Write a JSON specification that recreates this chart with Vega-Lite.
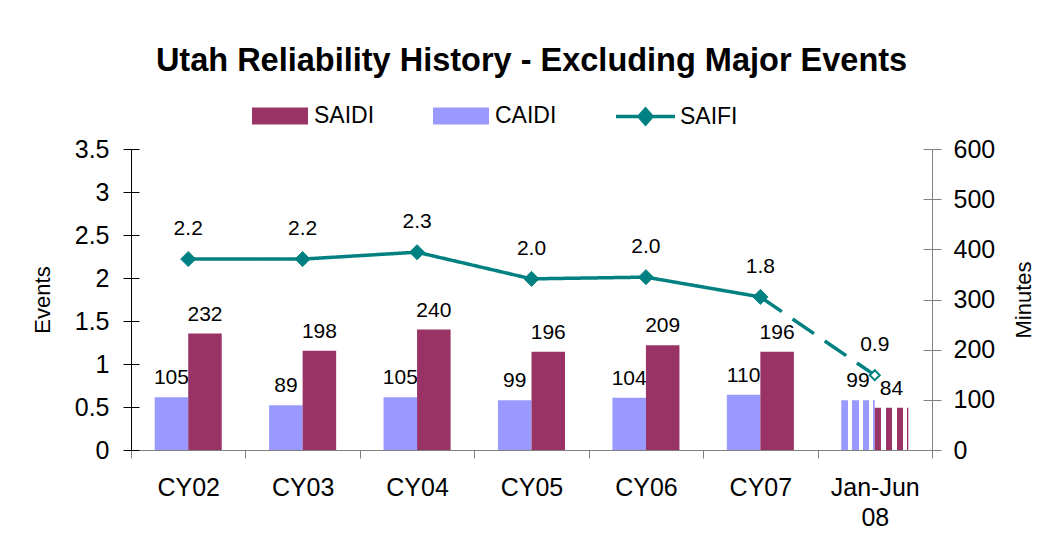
{
  "$schema": "https://vega.github.io/schema/vega-lite/v6.json",
  "width": 801,
  "height": 301,
  "autosize": {"type": "none"},
  "padding": {"left": 131, "top": 149, "right": 115, "bottom": 105},
  "background": "white",
  "config": {
    "font": "Liberation Sans",
    "view": {"stroke": null},
    "axis": {"grid": false, "labelFont": "Liberation Sans", "titleFont": "Liberation Sans", "labelColor": "black", "titleColor": "black", "titleFontWeight": "normal"},
    "legend": {"labelFont": "Liberation Sans", "labelColor": "black"}
  },
  "title": {"text": "Utah Reliability History - Excluding Major Events", "fontSize": 32.5, "fontWeight": "bold", "font": "Liberation Sans", "anchor": "middle", "baseline": "alphabetic", "offset": 15, "dy": 33, "color": "black"},
  "datasets": {
    "bars": [
      {"cat": "CY02", "series": "CAIDI", "value": 105},
      {"cat": "CY02", "series": "SAIDI", "value": 232},
      {"cat": "CY03", "series": "CAIDI", "value": 89},
      {"cat": "CY03", "series": "SAIDI", "value": 198},
      {"cat": "CY04", "series": "CAIDI", "value": 105},
      {"cat": "CY04", "series": "SAIDI", "value": 240},
      {"cat": "CY05", "series": "CAIDI", "value": 99},
      {"cat": "CY05", "series": "SAIDI", "value": 196},
      {"cat": "CY06", "series": "CAIDI", "value": 104},
      {"cat": "CY06", "series": "SAIDI", "value": 209},
      {"cat": "CY07", "series": "CAIDI", "value": 110},
      {"cat": "CY07", "series": "SAIDI", "value": 196},
      {"cat": "Jan-Jun 08", "series": "CAIDI", "value": 99},
      {"cat": "Jan-Jun 08", "series": "SAIDI", "value": 84}
    ],
    "line": [
      {"cat": "CY02", "value": 2.22, "seg": "solid", "series": "SAIFI"},
      {"cat": "CY03", "value": 2.22, "seg": "solid", "series": "SAIFI"},
      {"cat": "CY04", "value": 2.30, "seg": "solid", "series": "SAIFI"},
      {"cat": "CY05", "value": 1.99, "seg": "solid", "series": "SAIFI"},
      {"cat": "CY06", "value": 2.01, "seg": "solid", "series": "SAIFI"},
      {"cat": "CY07", "value": 1.78, "seg": "solid", "series": "SAIFI"},
      {"cat": "CY07", "value": 1.78, "seg": "dashed", "series": "SAIFI"},
      {"cat": "Jan-Jun 08", "value": 0.87, "seg": "dashed", "series": "SAIFI"}
    ],
    "saifi": [
      {"cat": "CY02", "value": 2.22},
      {"cat": "CY03", "value": 2.22},
      {"cat": "CY04", "value": 2.30},
      {"cat": "CY05", "value": 1.99},
      {"cat": "CY06", "value": 2.01},
      {"cat": "CY07", "value": 1.78},
      {"cat": "Jan-Jun 08", "value": 0.87}
    ]
  },
  "encoding": {
    "x": {
      "field": "cat", "type": "nominal",
      "scale": {"domain": ["CY02", "CY03", "CY04", "CY05", "CY06", "CY07", "Jan-Jun 08"], "paddingInner": 0, "paddingOuter": 0},
      "axis": {"title": null, "labelAngle": 0, "labelFontSize": 25, "labelPadding": 17, "labelLineHeight": 30, "labelExpr": "split(datum.label, ' ')", "tickBand": "extent", "tickSize": 8, "tickColor": "#808080", "domainColor": "#808080", "labelColor": "black"}
    }
  },
  "layer": [
    {
      "data": {"name": "bars"},
      "mark": {"type": "text", "fontSize": 21, "baseline": "alphabetic", "dy": -13, "color": "black", "font": "Liberation Sans"},
      "encoding": {
        "xOffset": {"field": "series", "type": "nominal", "scale": {"domain": ["CAIDI", "SAIDI"], "paddingInner": 0, "paddingOuter": 0.707}},
        "y": {"field": "value", "type": "quantitative", "scale": {"domain": [0, 600]}, "axis": {"orient": "right", "tickSize": -9, "labels": false, "domain": false, "title": null, "values": [0, 100, 200, 300, 400, 500, 600], "tickColor": "#808080"}},
        "text": {"field": "value", "type": "quantitative"}
      }
    },
    {
      "data": {"name": "bars"},
      "transform": [{"filter": "datum.cat != 'Jan-Jun 08'"}],
      "mark": {"type": "bar"},
      "encoding": {
        "xOffset": {"field": "series", "type": "nominal", "scale": {"domain": ["CAIDI", "SAIDI"], "paddingInner": 0, "paddingOuter": 0.707}},
        "y": {"field": "value", "type": "quantitative", "scale": {"domain": [0, 600]}, "axis": {"orient": "right", "tickSize": 9, "labelFontSize": 25, "labelPadding": 12, "title": "Minutes", "titleAngle": 270, "titleFontSize": 22, "titlePadding": 41, "values": [0, 100, 200, 300, 400, 500, 600], "tickColor": "#808080", "domainColor": "#808080"}},
        "fill": {"field": "series", "type": "nominal", "scale": {"domain": ["SAIDI", "CAIDI"], "range": ["#993366", "#9999FF"]},
          "legend": {"orient": "none", "legendX": 121, "legendY": -61, "direction": "horizontal", "title": null, "symbolType": "M-1,-0.3H1V0.3H-1Z", "symbolSize": 3136, "symbolStrokeWidth": 0, "labelFontSize": 23, "labelOffset": 6, "columnPadding": 58, "padding": 0}}
      }
    },
    {
      "data": {"name": "bars"},
      "transform": [{"filter": "datum.cat == 'Jan-Jun 08'"}],
      "mark": {"type": "bar"},
      "encoding": {
        "xOffset": {"field": "series", "type": "nominal", "scale": {"domain": ["CAIDI", "SAIDI"], "paddingInner": 0, "paddingOuter": 0.707}},
        "y": {"field": "value", "type": "quantitative", "scale": {"domain": [0, 600]}, "axis": null},
        "fill": {
          "condition": {"test": "datum.series == 'SAIDI'", "value": {"gradient": "linear", "x1": 0, "y1": 0, "x2": 1, "y2": 0, "stops": [
            {"offset": 0, "color": "#993366"}, {"offset": 0.2, "color": "#993366"}, {"offset": 0.2, "color": "#ffffff"}, {"offset": 0.32, "color": "#ffffff"},
            {"offset": 0.32, "color": "#993366"}, {"offset": 0.52, "color": "#993366"}, {"offset": 0.52, "color": "#ffffff"}, {"offset": 0.65, "color": "#ffffff"},
            {"offset": 0.65, "color": "#993366"}, {"offset": 0.84, "color": "#993366"}, {"offset": 0.84, "color": "#ffffff"}, {"offset": 0.96, "color": "#ffffff"},
            {"offset": 0.96, "color": "#993366"}, {"offset": 1, "color": "#993366"}]}},
          "value": {"gradient": "linear", "x1": 0, "y1": 0, "x2": 1, "y2": 0, "stops": [
            {"offset": 0, "color": "#9999FF"}, {"offset": 0.2, "color": "#9999FF"}, {"offset": 0.2, "color": "#ffffff"}, {"offset": 0.32, "color": "#ffffff"},
            {"offset": 0.32, "color": "#9999FF"}, {"offset": 0.52, "color": "#9999FF"}, {"offset": 0.52, "color": "#ffffff"}, {"offset": 0.65, "color": "#ffffff"},
            {"offset": 0.65, "color": "#9999FF"}, {"offset": 0.84, "color": "#9999FF"}, {"offset": 0.84, "color": "#ffffff"}, {"offset": 0.96, "color": "#ffffff"},
            {"offset": 0.96, "color": "#9999FF"}, {"offset": 1, "color": "#9999FF"}]}
        }
      }
    },
    {
      "encoding": {
        "y": {"field": "value", "type": "quantitative", "scale": {"domain": [0, 3.5]}, "axis": {"orient": "left", "tickSize": 8, "labelFontSize": 25, "labelPadding": 14, "format": "~g", "title": "Events", "titleFontSize": 22, "titlePadding": 20, "values": [0, 0.5, 1, 1.5, 2, 2.5, 3, 3.5], "tickColor": "black", "domainColor": "black"}}
      },
      "layer": [
        {
          "data": {"name": "line"},
          "mark": {"type": "line", "strokeWidth": 3.5},
          "encoding": {
            "stroke": {"field": "series", "type": "nominal", "scale": {"domain": ["SAIFI"], "range": ["#008080"]},
              "legend": {"orient": "none", "legendX": 483, "legendY": -64, "title": null, "symbolType": "M-1,0H1M0,-0.25L0.22,0L0,0.25L-0.22,0Z", "symbolSize": 3481, "symbolStrokeWidth": 3.5, "symbolFillColor": "#008080", "labelFontSize": 23, "labelOffset": 3, "padding": 0}},
            "strokeDash": {"field": "seg", "type": "nominal", "scale": {"domain": ["solid", "dashed"], "range": [[1, 0], [26, 13]]}, "legend": null}
          }
        },
        {
          "data": {"name": "saifi"},
          "mark": {"type": "point", "shape": "diamond", "opacity": 1, "stroke": "#008080"},
          "encoding": {
            "fill": {"condition": {"test": "datum.cat == 'Jan-Jun 08'", "value": "#ffffff"}, "value": "#008080"},
            "size": {"condition": {"test": "datum.cat == 'Jan-Jun 08'", "value": 100}, "value": 225},
            "strokeWidth": {"condition": {"test": "datum.cat == 'Jan-Jun 08'", "value": 2}, "value": 1}
          }
        }
      ]
    },
    {
      "data": {"name": "saifi"},
      "mark": {"type": "text", "fontSize": 21, "baseline": "alphabetic", "dy": -24, "color": "black", "font": "Liberation Sans"},
      "encoding": {
        "y": {"field": "value", "type": "quantitative", "scale": {"domain": [0, 3.5]}, "axis": {"orient": "left", "tickSize": -8, "labels": false, "domain": false, "title": null, "values": [0, 0.5, 1, 1.5, 2, 2.5, 3, 3.5], "tickColor": "black"}},
        "text": {"field": "value", "type": "quantitative", "format": ".1f"}
      }
    }
  ],
  "resolve": {"scale": {"y": "independent"}}
}
